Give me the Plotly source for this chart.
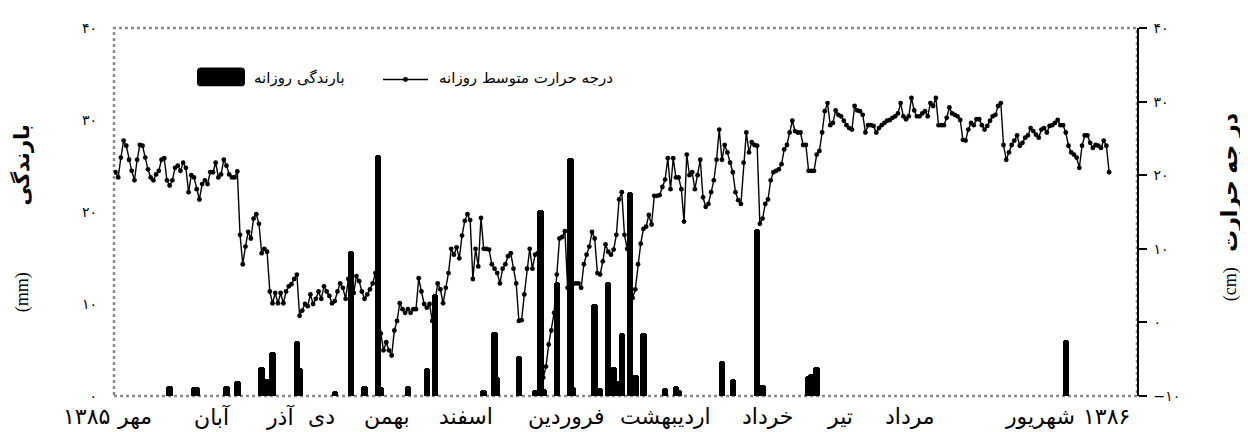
import plotly.graph_objects as go

# ---------------- data ----------------
# daily mean temperature (deg C), Mehr 1385 -> Shahrivar 1386
temp_c = [
    20.4, 19.7, 22.4, 24.7, 24.0, 22.1, 20.6, 19.3, 22.1, 24.1, 24.0, 22.4, 20.8, 19.7, 19.3, 20.1,
    20.6, 22.1, 22.3, 19.3, 18.6, 19.3, 21.0, 21.3, 20.6, 21.7, 21.0, 17.7, 20.0, 19.7, 18.1, 16.7,
    18.8, 19.3, 18.8, 20.4, 20.4, 21.7, 19.7, 20.1, 22.1, 21.3, 20.1, 19.7, 19.7, 20.5,
    11.9, 7.9, 10.3, 12.3, 11.4, 14.1, 14.7, 13.4, 9.4, 10.0, 9.6,
    4.2, 2.6, 4.0, 2.6, 4.0, 2.6, 4.2, 4.9, 5.2, 5.9, 6.5,
    0.9, 1.6, 2.5, 2.2, 3.8, 2.5, 3.2, 4.2, 3.2, 4.9, 4.2, 3.6, 2.6, 2.9, 4.2, 5.3, 4.7, 3.2,
    5.9, 4.9, 4.0, 6.3, 5.6, 4.2, 3.2, 3.8, 4.5, 5.3,
    6.7, 2.5, -1.5, -3.8, -2.7, -3.8, -4.5, -1.1, 0.2, 2.6, 1.8, 1.3, 1.8, 1.3, 1.8, 1.8, 6.0, 4.2,
    2.5, 2.0, 2.5, 0.2, 2.6, 5.3, 4.5, 2.6, 4.7, 6.7, 10.0, 9.2, 10.2, 8.7, 11.8, 13.8, 14.7, 13.9,
    5.9, 10.0, 7.6, 14.2, 10.0, 10.0, 9.9, 7.9, 7.3, 6.7, 5.3, 7.3, 7.9, 9.0, 9.4, 7.3, 5.3, 0.2,
    0.3, 3.8, 7.3, 10.0, 7.3, 9.2, 9.4,
    2.0, -7.5, -6.0, -3.0, -1.1, 1.3, 6.5, 11.4, 11.6, 12.4, 4.7, 5.2, 5.3, 5.3, 5.3, 4.7, 7.9, 9.2,
    10.3, 12.3, 11.4, 6.7, 6.5, 8.3, 10.6, 9.6, 9.2, 9.9, 11.9, 16.7, 17.7, 11.9, 10.0, 6.5, 3.3,
    4.5, 7.9, 10.7, 12.7, 13.0, 14.6, 13.3, 17.2, 17.2, 17.3, 18.4, 19.4, 22.3, 18.1, 22.3, 19.7,
    19.7, 18.1, 13.7, 22.8, 20.0, 20.4, 18.1, 20.0, 22.1,
    17.0, 15.7, 16.1, 17.7, 19.3, 22.1, 26.2, 22.1, 24.1, 23.1, 21.7, 20.4, 17.7, 16.6, 16.1, 21.7,
    25.8, 23.1, 24.5, 24.1, 24.0,
    13.4, 14.1, 16.1, 16.7, 19.3, 20.4, 20.6, 20.8, 21.5, 23.5, 24.1, 25.8, 27.4, 26.0, 25.8, 25.8,
    24.1, 24.1, 20.6, 20.6, 20.6,
    22.8, 23.3, 25.8, 28.7, 29.8, 26.8, 27.1, 28.8, 28.2, 28.0, 27.4, 26.8, 26.4, 26.2, 29.4, 28.8,
    28.7, 28.2,
    25.8, 26.8, 26.8, 26.7, 25.8, 26.4, 26.8, 27.1, 27.4, 27.5, 27.8, 28.0, 28.4, 29.8, 28.0, 27.6,
    28.0, 30.5, 28.8, 28.0, 28.0, 28.4, 28.7, 28.0, 29.8, 29.4, 30.5,
    26.8, 26.8, 26.8, 27.8, 29.2, 28.4, 28.2, 28.0, 27.5, 24.8, 24.7, 26.2, 27.1, 26.8, 27.6, 27.6,
    26.8, 26.2, 26.7, 27.4, 28.0, 28.2, 29.4, 29.8,
    24.1, 22.1, 23.1, 24.1, 24.7, 25.4, 24.0, 24.4, 25.1, 25.4, 26.4, 26.0, 25.5, 25.1, 26.2, 26.4,
    25.8, 26.7, 26.8, 27.1, 27.5, 26.8, 26.8, 25.8, 24.0, 23.1, 22.8, 22.4, 21.0, 24.0, 25.4, 25.4,
    24.4, 23.7, 24.1, 24.0, 23.7, 24.7, 24.0, 20.4,
]
days = list(range(len(temp_c)))

# daily rainfall (mm): day index and amount
rain_day = [20, 29, 30, 41, 45, 54, 56, 58, 67, 68, 81, 87, 92, 97, 98, 108, 115, 118,
            136, 140, 141, 149, 155, 157, 158, 163, 168, 169, 177, 179, 182, 184, 185, 187,
            190, 191, 192, 195, 203, 207, 208, 224, 228, 237, 239, 256, 257, 259, 351]
rain_mm = [1.1, 1.0, 1.0, 1.1, 1.6, 3.1, 1.9, 4.8, 6.0, 3.0, 0.5, 15.8, 1.1, 26.2, 1.0, 1.1, 3.0, 11.1,
           0.7, 7.0, 2.1, 4.4, 0.7, 20.2, 0.8, 12.4, 25.9, 1.0, 10.0, 0.9, 12.4, 3.1, 1.6, 6.8,
           22.2, 2.0, 2.3, 6.8, 0.9, 1.1, 0.7, 3.8, 1.8, 18.2, 1.2, 2.2, 2.4, 3.1, 6.1]

rain_ticks = [0, 10, 20, 30, 40]
rain_ticktext = ["۰", "۱۰", "۲۰", "۳۰", "۴۰"]
temp_ticks = [-10, 0, 10, 20, 30, 40]
temp_ticktext = ["−۱۰", "۰", "۱۰", "۲۰", "۳۰", "۴۰"]

month_labels = ["۱۳۸۵", "مهر", "آبان", "آذر", "دی", "بهمن", "اسفند", "فروردین",
                "اردیبهشت", "خرداد", "تیر", "مرداد", "شهریور", "۱۳۸۶"]
legend_rain = "بارندگی روزانه"
legend_temp = "درجه حرارت متوسط روزانه"
title_left = "بارندگی"
title_left_unit = "(mm)"
title_right_words = ["در جه", "حرارت"]
title_right_unit = "(cm)"

# ---------------- layout helpers (page pixel -> paper) ----------------
OFF = 8                      # default body margin of the html page
PW, PH = 1248, 432           # page size
L, R, T, B = 114, 1137, 24, 396   # plot area in page pixels
W, H = PW - OFF, PH - OFF
def px(x):
    return (x - L) / (R - L)
def py(y):
    return (B - y) / (B - T)

FONT = "Liberation Serif, DejaVu Sans, serif"
ARFONT = "DejaVu Sans, Liberation Serif"

fig = go.Figure()
fig.add_trace(go.Bar(
    x=rain_day, y=rain_mm, width=2.4, yaxis="y",
    marker=dict(color="black", cornerradius=3, line=dict(width=0)),
    showlegend=False,
))
fig.add_trace(go.Scatter(
    x=days, y=temp_c, yaxis="y2", mode="lines+markers",
    line=dict(color="black", width=1.4),
    marker=dict(color="black", size=4.8),
    showlegend=False,
))

shapes = [
    dict(type="rect", xref="paper", yref="paper", x0=0, x1=1, y0=0, y1=1,
         line=dict(color="#8a8a8a", width=2.5, dash="dot"), layer="below"),
]
# legend: rounded black box for rainfall
x0, x1, y0, y1, r = 197, 245, 64, 83, 4
path = (f"M {px(x0+r)},{py(y0)} L {px(x1-r)},{py(y0)} Q {px(x1)},{py(y0)} {px(x1)},{py(y0+r)} "
        f"L {px(x1)},{py(y1-r)} Q {px(x1)},{py(y1)} {px(x1-r)},{py(y1)} "
        f"L {px(x0+r)},{py(y1)} Q {px(x0)},{py(y1)} {px(x0)},{py(y1-r)} "
        f"L {px(x0)},{py(y0+r)} Q {px(x0)},{py(y0)} {px(x0+r)},{py(y0)} Z")
shapes.append(dict(type="path", xref="paper", yref="paper", path=path,
                   fillcolor="black", line=dict(color="black", width=0)))
# legend: line sample with marker for temperature
shapes.append(dict(type="line", xref="paper", yref="paper", x0=px(383), x1=px(428),
                   y0=py(76), y1=py(76), line=dict(color="black", width=1.5)))
shapes.append(dict(type="circle", xref="paper", yref="paper", x0=px(403), x1=px(408),
                   y0=py(78.5), y1=py(73.5), fillcolor="black", line=dict(color="black", width=0)))

annotations = [
    dict(text=legend_rain, x=px(252), y=py(75), xanchor="left", yanchor="middle",
         font=dict(family=ARFONT, size=15, color="black")),
    dict(text=legend_temp, x=px(437), y=py(75), xanchor="left", yanchor="middle",
         font=dict(family=ARFONT, size=15, color="black")),
    dict(text="<b>" + title_left + "</b>", x=px(22), y=py(163), textangle=-90,
         xanchor="center", yanchor="middle",
         font=dict(family=ARFONT, size=21, color="black")),
    dict(text=title_left_unit, x=px(22), y=py(291), textangle=-90,
         xanchor="center", yanchor="middle",
         font=dict(family=FONT, size=18, color="black")),
    dict(text=title_right_unit, x=px(1230), y=py(283), textangle=-90,
         xanchor="center", yanchor="middle",
         font=dict(family=FONT, size=18, color="black")),
]
for word, cy in zip(title_right_words, [141, 214]):
    annotations.append(dict(text="<b>" + word + "</b>", x=px(1230), y=py(cy), textangle=-90,
                            xanchor="center", yanchor="middle",
                            font=dict(family=ARFONT, size=22, color="black")))
month_centers = [86, 134, 212, 280, 321, 387, 466, 566, 665, 767, 840, 910, 1040, 1106]
for lab, cx in zip(month_labels, month_centers):
    annotations.append(dict(text=lab, x=px(cx), y=py(417), xanchor="center", yanchor="middle",
                            font=dict(family=ARFONT, size=22, color="black")))
for a in annotations:
    a.update(xref="paper", yref="paper", showarrow=False)

fig.update_layout(
    width=W, height=H,
    margin=dict(l=L - OFF, r=PW - R, t=T - OFF, b=PH - B),
    paper_bgcolor="white", plot_bgcolor="white",
    font=dict(family=FONT, color="black"),
    xaxis=dict(range=[-0.55, 377.3], showticklabels=False, showgrid=False, zeroline=False,
               showline=False, ticks=""),
    yaxis=dict(range=[0, 40], tickvals=rain_ticks, ticktext=rain_ticktext, showgrid=False,
               zeroline=False, showline=False, ticks="", ticklabelstandoff=16,
               tickfont=dict(family=ARFONT, size=14)),
    yaxis2=dict(range=[-10, 40], tickvals=temp_ticks, ticktext=temp_ticktext, overlaying="y",
                side="right", showgrid=False, zeroline=False, showline=True, linecolor="black",
                linewidth=1.5, ticks="outside", ticklen=8, tickwidth=1.5, tickcolor="black",
                ticklabelstandoff=4, tickfont=dict(family=ARFONT, size=14)),
    shapes=shapes, annotations=annotations, showlegend=False, bargap=0,
)
fig.write_html("out.html")
